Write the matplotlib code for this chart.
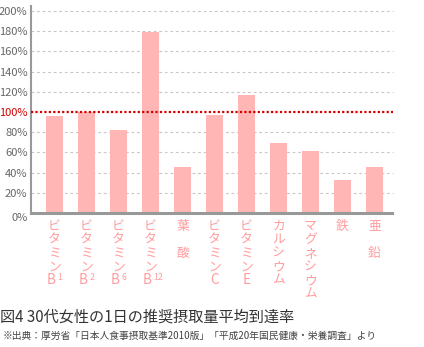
import matplotlib
matplotlib.use("Agg")
import matplotlib.pyplot as plt

plt.rcParams['font.family'] = ['Noto Sans CJK JP', 'DejaVu Sans']

# data
labels = ["ビタミン", "ビタミン", "ビタミン", "ビタミン", "葉酸", "ビタミン", "ビタミン",
          "カルシウム", "マグネシウム", "鉄", "亜鉛"]
label_tail = ["B", "B", "B", "B", "", "C", "E", "", "", "", ""]
label_sup = ["1", "2", "6", "12", "", "", "", "", "", "", ""]
values = [96, 100, 82, 179, 46, 97, 117, 69, 61, 33, 46]
yticks = [0, 20, 40, 60, 80, 100, 120, 140, 160, 180, 200]
ytick_labels = [f"{v}%" for v in yticks]
title = "図4 30代女性の1日の推奨摂取量平均到達率"
source = "※出典：厚労省「日本人食事摂取基準2010版」「平成20年国民健康・栄養調査」より"

W, H = 424, 347
fig = plt.figure(figsize=(W / 100, H / 100), dpi=100)
ax = fig.add_axes([31 / W, 1 - 213 / H, (392 - 31) / W, (213 - 6) / H])

bar_color = "#ffb6b4"
label_color = "#ff9c9c"
x = list(range(len(values)))

ax.bar(x, values, width=0.53, color=bar_color, zorder=2)
ax.set_xlim(-0.734, 10.547)
ax.set_ylim(0, 205)

# grid
for v in yticks[1:]:
    if v == 100:
        continue
    ax.axhline(v, color="#c8c8c8", lw=0.8, ls=(0, (2.5, 2.5)), zorder=1, clip_on=False,
               xmax=1.003)
ax.axhline(100, color="#d40000", lw=1.6, ls=(0, (1, 1)), zorder=3, xmax=1.003, clip_on=False)

for s in ["top", "right"]:
    ax.spines[s].set_visible(False)
ax.spines["left"].set_color("#999999")
ax.spines["left"].set_linewidth(1.5)
ax.spines["bottom"].set_color("#999999")
ax.spines["bottom"].set_linewidth(2.2)
ax.spines["bottom"].set_zorder(4)

ax.set_yticks(yticks)
ax.set_yticklabels(ytick_labels)
ax.tick_params(axis="y", length=0, pad=2.5, labelsize=8, labelcolor="#666666")
ax.set_xticks([])
for lbl, v in zip(ax.get_yticklabels(), yticks):
    if v == 100:
        lbl.set_color("#d40000")
    if v == 0:
        lbl.set_va("top")

# vertical category labels
step = 9.8  # points
start = -9.4
for i, (lab, tail, sup) in enumerate(zip(labels, label_tail, label_sup)):
    chars = list(lab)
    if lab in ("葉酸", "亜鉛"):
        positions = [0, 2]
    else:
        positions = list(range(len(chars)))
    for c, p in zip(chars, positions):
        ax.annotate(c, xy=(i, 0), xycoords=("data", "axes fraction"),
                    xytext=(0, start - p * step), textcoords="offset points",
                    ha="center", va="center", fontsize=9.2, color=label_color)
    if tail:
        p = len(chars)
        if sup:
            ax.annotate(tail, xy=(i, 0), xycoords=("data", "axes fraction"),
                        xytext=(0.8, start - p * step), textcoords="offset points",
                        ha="right", va="center", fontsize=9.8, color=label_color)
            ax.annotate(sup, xy=(i, 0), xycoords=("data", "axes fraction"),
                        xytext=(2.0, start - p * step + 1.8), textcoords="offset points",
                        ha="left", va="center", fontsize=6.3, color=label_color)
        else:
            ax.annotate(tail, xy=(i, 0), xycoords=("data", "axes fraction"),
                        xytext=(0, start - p * step), textcoords="offset points",
                        ha="center", va="center", fontsize=9.8, color=label_color)

fig.text(0.0, 1 - 317 / H, title, ha="left", va="center", fontsize=10.9, color="#333333")
fig.text(3 / W, 1 - 336 / H, source, ha="left", va="center", fontsize=7, color="#444444")

fig.savefig("out.png", dpi=100)
